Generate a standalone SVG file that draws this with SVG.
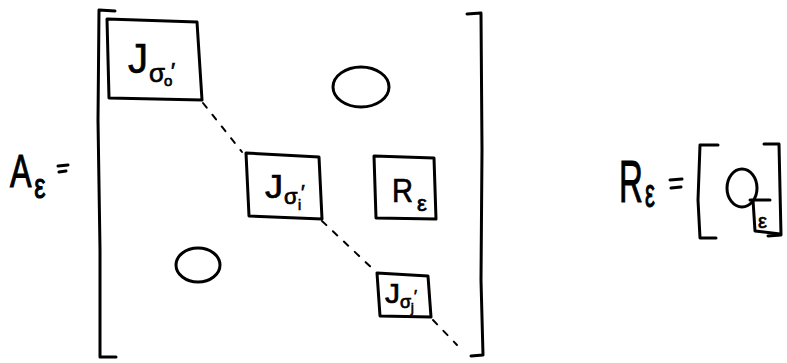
<svg xmlns="http://www.w3.org/2000/svg" width="787" height="363" viewBox="0 0 787 363">
<style>
.ln{fill:none;stroke:#000;stroke-width:3;stroke-linecap:round;stroke-linejoin:round}
.ds{fill:none;stroke:#000;stroke-width:2;stroke-dasharray:6 9;stroke-linecap:round}
text{font-family:"Liberation Sans","DejaVu Sans",sans-serif;fill:#000;stroke:#000;stroke-width:0.7}
.big{stroke-width:1.1}
</style>
<rect width="787" height="363" fill="#fff"/>
<g id="label-A">
<text class="big" transform="translate(10,187) scale(0.7,1)" x="0" y="0" font-size="46">A<tspan dx="4" dy="11" font-size="36">ε</tspan></text>
<path class="ln" d="M58 166 L68 165 M59 172 L66 171"/>
</g>
<g id="matrix-brackets">
<path class="ln" d="M115 11 L99 10 L98 120 L100 250 L100 357 L116 357"/>
<path class="ln" d="M467 14 L481 13 L482 150 L481 280 L483 355 L471 356"/>
</g>
<g id="block-J0">
<path class="ln" d="M107 19 L197 22 L202 100 L109 98 Z"/>
<text x="128" y="73" font-size="42" textLength="20" lengthAdjust="spacingAndGlyphs">J</text>
<text x="149" y="82" font-size="26">σ</text>
<text x="164" y="86" font-size="15">o</text>
<text x="171" y="78" font-size="22">′</text>
</g>
<g id="block-Ji">
<path class="ln" d="M246 153 L319 157 L322 219 L249 216 Z"/>
<text x="265" y="198" font-size="34" textLength="18" lengthAdjust="spacingAndGlyphs">J</text>
<text x="284" y="204" font-size="22">σ</text>
<text x="298" y="210" font-size="14">i</text>
<text x="301" y="199" font-size="20">′</text>
</g>
<g id="block-R">
<path class="ln" d="M374 156 L434 158 L436 219 L376 218 Z"/>
<text x="392" y="202" font-size="33" textLength="21" lengthAdjust="spacingAndGlyphs">R</text>
<text x="417" y="211" font-size="22">ε</text>
</g>
<g id="block-Jj">
<path class="ln" d="M377 273 L428 276 L431 317 L380 316 Z"/>
<text x="385" y="303" font-size="28" textLength="15" lengthAdjust="spacingAndGlyphs">J</text>
<text x="400" y="308" font-size="18">σ</text>
<text x="411" y="312" font-size="12">j</text>
<text x="414" y="302" font-size="16">′</text>
</g>
<g id="zero-upper">
<ellipse class="ln" cx="361" cy="87" rx="28" ry="20"/>
</g>
<g id="zero-lower">
<ellipse class="ln" cx="198" cy="265" rx="22" ry="17"/>
</g>
<g id="connectors">
<path class="ds" d="M203 103 L242 152"/>
<path class="ds" d="M322 221 L374 270"/>
<path class="ds" d="M433 320 L457 345"/>
</g>
<g id="label-R-def">
<text class="big" transform="translate(619,202) scale(0.55,1)" x="0" y="0" font-size="60">R<tspan dx="4" dy="5" font-size="40">ε</tspan></text>
<path class="ln" d="M670 180 L682 179 M671 188 L681 187"/>
<path class="ln" d="M718 145 L700 145 L698 200 L700 238 L716 238"/>
<path class="ln" d="M764 144 L779 144 L780 190 L781 235 L768 236"/>
<ellipse class="ln" cx="742" cy="188" rx="15" ry="19"/>
<path class="ln" d="M750 200 L770 200 M753 200 L755 231 L780 234"/>
<text x="758" y="228" font-size="20">ε</text>
</g>
</svg>
